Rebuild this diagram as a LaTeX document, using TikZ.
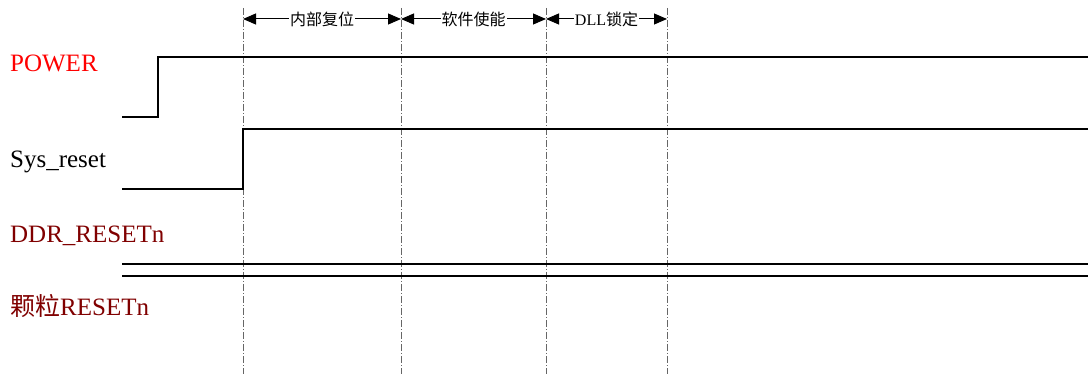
\documentclass[tikz,border=0pt]{standalone}
\usepackage{fontspec}
\setmainfont{Liberation Serif}
\newfontfamily\cjk{Noto Sans CJK SC}
\usetikzlibrary{arrows.meta}
\definecolor{darkred}{HTML}{800000}
\begin{document}
\begin{tikzpicture}[x=1pt,y=-1pt,
  sig/.style={line width=2.2pt,line join=miter},
  guide/.style={gray!80!black,line width=0.5pt,dash pattern=on 7pt off 2pt on 1pt off 2pt},
  span/.style={line width=1pt,{Triangle[length=13pt,width=11pt]}-{Triangle[length=13pt,width=11pt]}},
  spanlabel/.style={fill=white,inner sep=1pt,font=\fontsize{16pt}{18pt}\selectfont},
  siglabel/.style={anchor=base west,inner sep=0pt,font=\fontsize{25pt}{28pt}\selectfont}]
\useasboundingbox (0,0) rectangle (1088,374);
% guide lines
\foreach \n/\x in {a/243,b/401,c/546,d/667}{
  \coordinate (\n top) at (\x,8);
  \coordinate (\n bot) at (\x,374);
  \coordinate (\n arr) at (\x,19);
  \draw[guide] (\n top) -- (\n bot);
}
% spans
\draw[span] (aarr) -- node[spanlabel]{\cjk 内部复位} (barr);
\draw[span] (barr) -- node[spanlabel]{\cjk 软件使能} (carr);
\draw[span] (carr) -- node[spanlabel]{DLL\cjk 锁定} (darr);
% labels
\node[siglabel,text=red] (lpower) at (10,72) {POWER};
\node[siglabel] (lsys) at (10,168) {Sys\_reset};
\node[siglabel,text=darkred] (lddr) at (10,243) {DDR\_RESETn};
\node[siglabel,text=darkred] (lchip) at (10,316) {{\cjk 颗粒}RESETn};
% POWER
\coordinate (p0) at (122,117);
\coordinate (p1) at (158,117);
\coordinate (p2) at (158,57);
\coordinate (p3) at (1088,57);
\draw[sig] (p0) -- (p1) -- (p2) -- (p3);
% Sys_reset
\coordinate (s0) at (122,189);
\coordinate (s1) at (243,189);
\coordinate (s2) at (243,129);
\coordinate (s3) at (1088,129);
\draw[sig] (s0) -- (s1) -- (s2) -- (s3);
% DDR bus
\coordinate (d0) at (122,264);
\coordinate (d1) at (1088,264);
\coordinate (e0) at (122,276);
\coordinate (e1) at (1088,276);
\draw[sig] (d0) -- (d1);
\draw[sig] (e0) -- (e1);
\end{tikzpicture}
\end{document}
